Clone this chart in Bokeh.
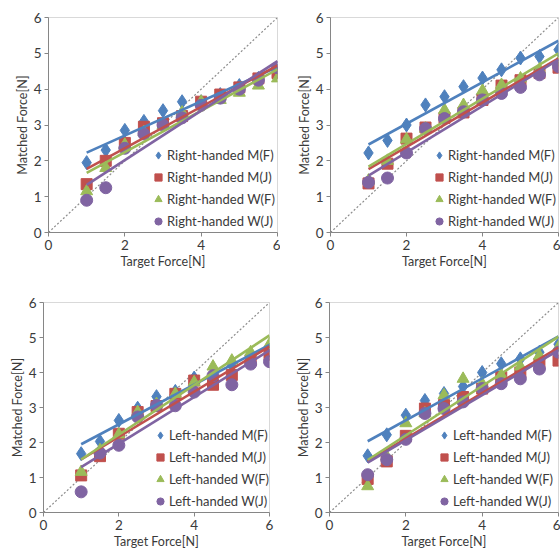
import numpy as np
from bokeh.plotting import figure
from bokeh.layouts import column, row
from bokeh.models import Legend, LegendItem, FixedTicker, Range1d
from bokeh.embed import file_html
from bokeh.resources import INLINE

# ---------------- data ----------------
target = [1, 1.5, 2, 2.5, 3, 3.5, 4, 4.5, 5, 5.5, 6]
diag = [0, 6]
x_ticks = [0, 2, 4, 6]
y_ticks = [0, 1, 2, 3, 4, 5, 6]
series_names = ["M(F)", "M(J)", "W(F)", "W(J)"]

# Right-handed, first panel (top-left)
right1_MF = [1.95, 2.30, 2.85, 3.10, 3.40, 3.65, 3.65, 3.85, 4.10, 4.30, 4.50]
right1_MJ = [1.35, 2.00, 2.50, 2.95, 3.05, 3.25, 3.65, 3.85, 4.05, 4.30, 4.45]
right1_WF = [1.15, 1.80, 2.45, 2.80, 3.00, 3.35, 3.65, 3.70, 3.90, 4.10, 4.30]
right1_WJ = [0.90, 1.25, 2.35, 2.75, 3.00, 3.20, 3.55, 3.75, 4.00, 4.25, 4.60]

# Right-handed, second panel (top-right)
right2_MF = [2.22, 2.57, 3.00, 3.56, 3.79, 4.07, 4.31, 4.54, 4.87, 4.91, 5.10]
right2_MJ = [1.37, 1.92, 2.62, 2.93, 3.20, 3.35, 3.70, 4.10, 4.25, 4.45, 4.60]
right2_WF = [1.45, 2.00, 2.60, 2.90, 3.42, 3.56, 3.96, 4.12, 4.30, 4.55, 4.75]
right2_WJ = [1.40, 1.52, 2.22, 2.90, 3.18, 3.37, 3.70, 3.88, 4.05, 4.40, 4.63]

# Left-handed, first panel (bottom-left)
left1_MF = [1.68, 2.03, 2.63, 2.98, 3.31, 3.46, 3.84, 3.96, 4.20, 4.34, 4.64]
left1_MJ = [1.06, 1.61, 2.25, 2.87, 3.04, 3.39, 3.77, 3.65, 3.93, 4.35, 4.51]
left1_WF = [1.16, 1.78, 2.23, 2.87, 3.10, 3.39, 3.72, 4.17, 4.34, 4.58, 4.81]
left1_WJ = [0.59, 1.70, 1.92, 2.73, 3.06, 3.05, 3.44, 3.91, 3.65, 4.24, 4.31]

# Left-handed, second panel (bottom-right)
left2_MF = [1.62, 2.22, 2.78, 3.20, 3.40, 3.60, 4.00, 4.25, 4.39, 4.58, 4.81]
left2_MJ = [0.96, 1.46, 2.19, 2.97, 3.07, 3.30, 3.54, 3.87, 4.00, 4.25, 4.34]
left2_WF = [0.75, 1.60, 2.55, 2.83, 3.35, 3.82, 3.68, 3.93, 4.17, 4.48, 4.72]
left2_WJ = [1.08, 1.51, 2.09, 2.83, 2.97, 3.16, 3.54, 3.68, 3.82, 4.10, 4.58]

# ---------------- style ----------------
COLORS = ["#4F81BD", "#C0504D", "#9BBB59", "#8064A2"]
MARKERS = ["diamond", "square", "triangle", "circle"]
SIZES = [14, 11, 12, 12]
FONT = "Lato"
TEXT = "#3a3a3a"
AXIS = "#868686"


def make_panel(hand, series, width, height, bl, br, bt, bb, legend_x):
    p = figure(width=width, height=height,
               x_range=Range1d(0, 6), y_range=Range1d(0, 6),
               output_backend="svg", toolbar_location=None,
               min_border_left=bl, min_border_right=br,
               min_border_top=bt, min_border_bottom=bb,
               background_fill_color="white", border_fill_color="white")
    p.outline_line_color = "#d9d9d9"
    p.xgrid.visible = False
    p.ygrid.visible = False

    for ax, ticks in ((p.xaxis, x_ticks), (p.yaxis, y_ticks)):
        ax.ticker = FixedTicker(ticks=ticks)
        ax.minor_tick_line_color = None
        ax.major_tick_in = 0
        ax.major_tick_out = 4
        ax.axis_line_color = AXIS
        ax.major_tick_line_color = AXIS
        ax.major_label_text_font = FONT
        ax.major_label_text_font_size = "13.5px"
        ax.major_label_text_color = TEXT
        ax.axis_label_text_font = FONT
        ax.axis_label_text_font_size = "12.5px"
        ax.axis_label_text_font_style = "normal"
        ax.axis_label_text_color = TEXT
        ax.axis_label_standoff = 1
    p.xaxis.major_label_standoff = 3
    p.yaxis.major_label_standoff = 3
    p.xaxis.axis_label = "Target Force[N]"
    p.yaxis.axis_label = "Matched Force[N]"

    p.line(diag, diag, line_color="#8c8c8c", line_width=1.2, line_dash="2 2")

    items = []
    for name, ys, c, m, s in zip(series_names, series, COLORS, MARKERS, SIZES):
        r = p.scatter(target, ys, marker=m, size=s, fill_color=c, line_color=c)
        items.append(LegendItem(label=f"{hand} {name}", renderers=[r]))

    for ys, c in zip(series, COLORS):
        k, b = np.polyfit(target, ys, 1)
        xs = [target[0], target[-1]]
        p.line(xs, [k * x + b for x in xs], line_color=c, line_width=2.6)

    legend = Legend(items=items, location=(legend_x, 0), padding=0, margin=0,
                    spacing=0, glyph_height=22, glyph_width=18,
                    label_height=22, label_standoff=0,
                    border_line_color=None, background_fill_alpha=0,
                    label_text_font=FONT, label_text_font_size="13px",
                    label_text_color=TEXT)
    p.add_layout(legend)
    return p


# Bokeh's page template has no body margin: panels fill the 560x551 window
p1 = make_panel("Right-handed", [right1_MF, right1_MJ, right1_WF, right1_WJ],
                280, 280, 48, 3, 16, 48, 101)
p2 = make_panel("Right-handed", [right2_MF, right2_MJ, right2_WF, right2_WJ],
                280, 280, 50, 2, 17, 48, 100)
p3 = make_panel("Left-handed", [left1_MF, left1_MJ, left1_WF, left1_WJ],
                280, 271, 43, 11, 22, 39, 108)
p4 = make_panel("Left-handed", [left2_MF, left2_MJ, left2_WF, left2_WJ],
                280, 271, 49, 2, 22, 39, 106)

layout = column(row(p1, p2), row(p3, p4))
open("out.html", "w").write(file_html(layout, INLINE))
